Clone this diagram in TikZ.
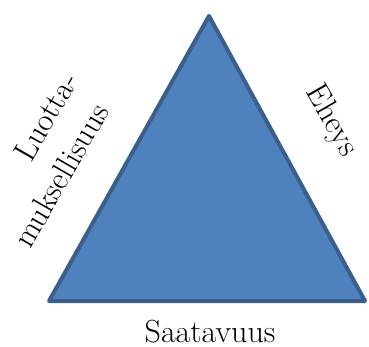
\documentclass[tikz,border=0pt]{standalone}
\definecolor{trifill}{HTML}{4F81BD}
\definecolor{triline}{HTML}{3A5F8B}
\tikzset{
  lbl/.style={font=\fontsize{32}{35}\selectfont, inner sep=0pt},
  tri/.style={fill=trifill, draw=triline, line width=4pt, line join=round}
}
\begin{document}
\begin{tikzpicture}[x=1pt,y=-1pt]
\useasboundingbox (0,0) rectangle (369,347);
\coordinate (A) at (209,16);
\coordinate (B) at (49,301);
\coordinate (C) at (365,301);
\path[tri] (A) -- (B) -- (C) -- cycle;
\node[lbl, anchor=base] (s) at (210,342) {Saatavuus};
\node[lbl, rotate=-60] (e) at (331,121) {Eheys};
\node[lbl, rotate=60, anchor=base west] (l1) at (31,164) {Luotta-};
\node[lbl, rotate=60, anchor=base west] (l2) at (30,250) {muksellisuus};
\end{tikzpicture}
\end{document}
